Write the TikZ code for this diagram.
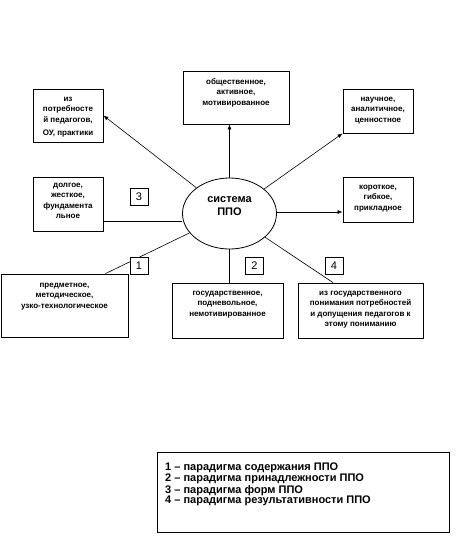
\documentclass[tikz,border=0pt]{standalone}
\usepackage{fontspec}
\setmainfont{Liberation Sans}
\usetikzlibrary{shapes.geometric,arrows.meta}
\begin{document}
\begin{tikzpicture}[x=1pt,y=-1pt,
  box/.style={draw,line width=0.8pt,fill=white,inner sep=0pt},
  txt/.style={font=\fontsize{8}{10.5}\selectfont\bfseries,align=center,inner sep=0pt,anchor=north},
  numbox/.style={draw,line width=0.8pt,fill=white,minimum width=18pt,minimum height=17pt,inner sep=0pt,font=\fontsize{11}{11}\selectfont},
  conn/.style={line width=0.6pt},
  arr/.style={conn,-{Latex[length=5pt,width=4pt]}}]
\useasboundingbox (0,0) rectangle (458,550);
% boxes
\node[box,minimum width=70pt,minimum height=53pt] (potr) at (68,115.5) {};
\node[box,minimum width=106pt,minimum height=53pt] (obsh) at (236,97.5) {};
\node[box,minimum width=70pt,minimum height=44pt] (nauch) at (378,111) {};
\node[box,minimum width=70pt,minimum height=54pt] (dolg) at (68,204) {};
\node[box,minimum width=70pt,minimum height=45pt] (korot) at (378,199.5) {};
\node[box,minimum width=127pt,minimum height=63pt] (predm) at (64.5,305.5) {};
\node[box,minimum width=111pt,minimum height=55pt] (gos) at (227.5,310.5) {};
\node[box,minimum width=125pt,minimum height=55pt] (izgos) at (360.5,310.5) {};
\node[box,minimum width=292pt,minimum height=80pt] (leg) at (303,492) {};
\node[draw,line width=0.8pt,ellipse,minimum width=94pt,minimum height=71pt,inner sep=0pt] (ell) at (229.5,213.5) {};
% texts
\node[txt] (potrT) at ([yshift=-4.9pt]potr.north) {\strut из\\потребносте\\й педагогов,\\[3pt]ОУ, практики};
\node[txt] (obshT) at ([yshift=-5.9pt]obsh.north) {\strut общественное,\\активное,\\мотивированное};
\node[txt] (nauchT) at ([yshift=-4.9pt]nauch.north) {\strut научное,\\аналитичное,\\ценностное};
\node[txt] (dolgT) at ([yshift=-2.9pt]dolg.north) {\strut долгое,\\жесткое,\\фундамента\\льное};
\node[txt] (korotT) at ([yshift=-4.9pt]korot.north) {\strut короткое,\\гибкое,\\прикладное};
\node[txt] (predmT) at ([yshift=-5.9pt]predm.north) {\strut предметное,\\методическое,\\узко-технологическое};
\node[txt] (gosT) at ([yshift=-4.9pt]gos.north) {\strut государственное,\\подневольное,\\немотивированное};
\node[txt] (izgosT) at ([yshift=-5.2pt]izgos.north) {\strut из государственного\\понимания потребностей\\и допущения педагогов к\\этому пониманию};
\node[font=\fontsize{11}{13}\selectfont\bfseries,align=center,inner sep=0pt] (ellT) at (229.5,206.5) {система\\ППО};
\node[font=\fontsize{11}{10}\selectfont\bfseries,align=left,inner sep=0pt,anchor=north west] (legT) at (165,462.3)
  {\strut 1 – парадигма содержания ППО\\2 – парадигма принадлежности ППО\\3 – парадигма форм ППО\\4 – парадигма результативности ППО};
% connectors
\draw[arr] (ell) -- (potr.east);
\draw[arr] (ell.north) -- (ell.north |- obsh.south);
\draw[arr] (ell) -- (nauch.south west);
\draw[conn] (dolg.east |- 0,221) -- (ell.west |- 0,221);
\draw[arr] (ell.east |- 0,212) -- (korot.west |- 0,212);
\draw[conn] (ell) -- ([xshift=41pt]predm.north);
\draw[conn] (ell.south) -- (ell.south |- gos.north);
\draw[conn] (ell) -- ([xshift=-27.5pt]izgos.north);
% number boxes
\node[numbox] (n3) at (139,196.5) {3};
\node[numbox] (n1) at (139,265.5) {1};
\node[numbox] (n2) at (254.5,265.5) {2};
\node[numbox] (n4) at (334,265.5) {4};
\end{tikzpicture}
\end{document}
